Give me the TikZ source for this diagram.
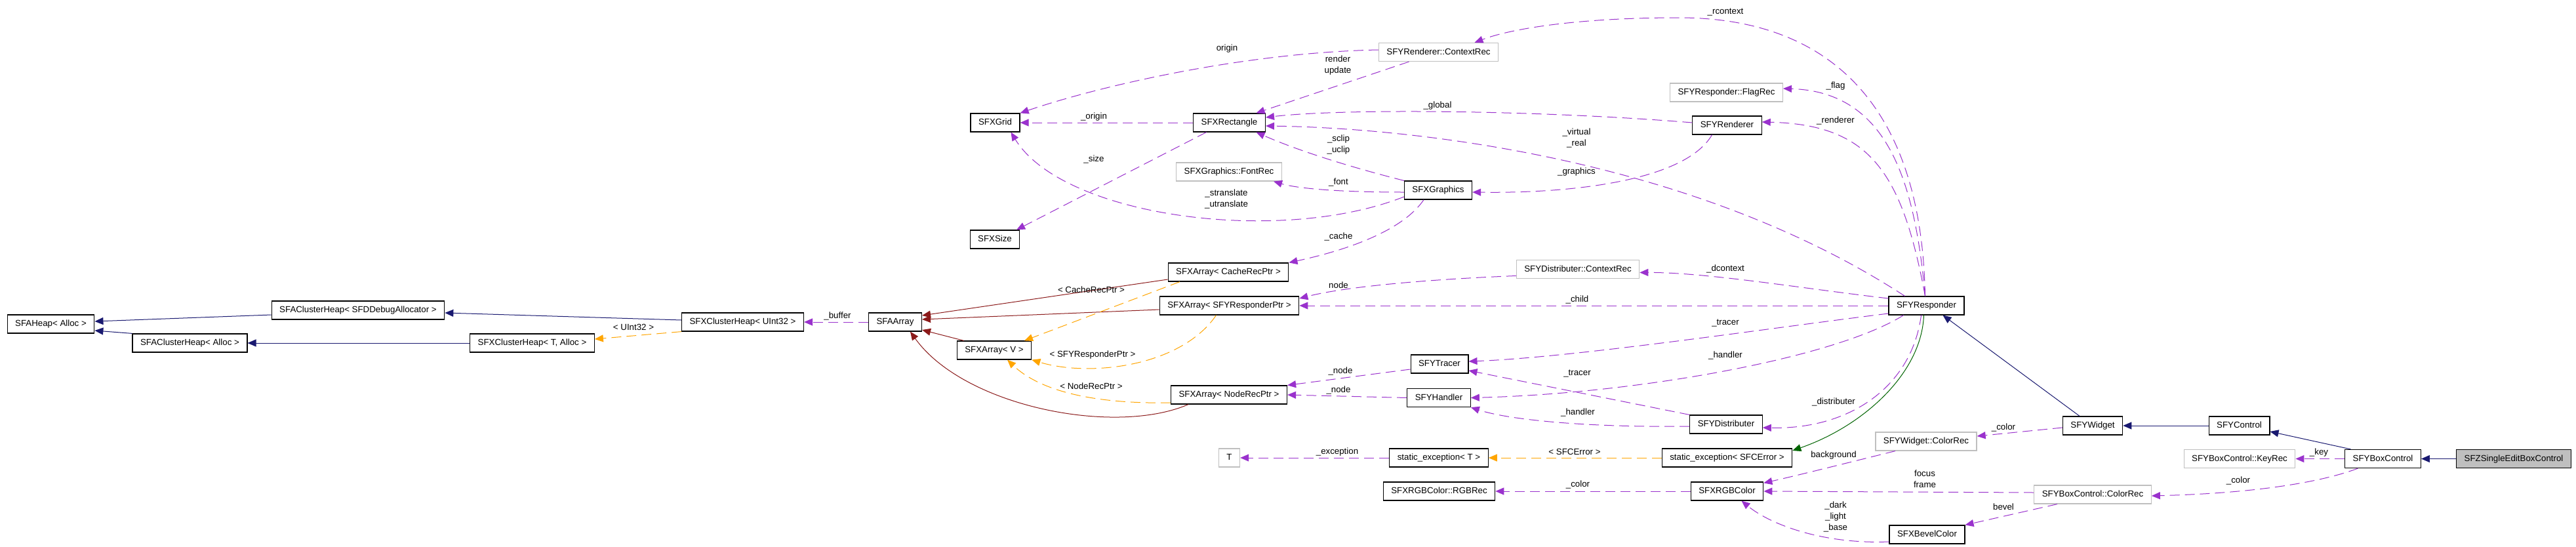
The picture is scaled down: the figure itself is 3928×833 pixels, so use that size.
\documentclass[tikz,border=0pt]{standalone}
\usepackage{fontspec}
\setmainfont{Liberation Sans}
\usepackage{tikz}
\usetikzlibrary{arrows.meta}

\definecolor{inhblue}{HTML}{191970}
\definecolor{privred}{HTML}{8B1A1A}
\definecolor{protgreen}{HTML}{006400}
\definecolor{usepurple}{HTML}{9A32CD}
\definecolor{tmplorange}{HTML}{FFA500}
\definecolor{undocgray}{HTML}{BFBFBF}

\begin{document}
\begin{tikzpicture}[x=1pt, y=-1pt,
  cls/.style={draw=black, line width=1.2pt, minimum height=28pt, inner xsep=12pt, inner ysep=0pt,
    text height=9.8pt, text depth=2.8pt, font=\fontsize{13.3}{16}\selectfont},
  ext/.style={cls, draw=undocgray},
  self/.style={cls, fill=undocgray},
  lbl/.style={inner sep=0pt, align=center, font=\fontsize{13.3}{17}\selectfont},
  tip/.style={-{Triangle[length=13pt,width=11pt]}},
  pub/.style={tip, draw=inhblue, line width=1pt},
  priv/.style={tip, draw=privred, line width=1pt},
  prot/.style={tip, draw=protgreen, line width=1pt},
  use/.style={tip, draw=usepurple, line width=1pt, dash pattern=on 15pt off 8pt},
  tmpl/.style={tip, draw=tmplorange, line width=1pt, dash pattern=on 15pt off 8pt}]

\path[use as bounding box, fill=white] (0,0) rectangle (3928,833);

% Classes
\node[cls] (heap) at (77.5,494) {SFAHeap< Alloc >};
\node[cls] (cheapdbg) at (546,473) {SFAClusterHeap< SFDDebugAllocator >};
\node[cls] (cheapalloc) at (289.5,523) {SFAClusterHeap< Alloc >};
\node[cls] (xcheapu) at (1132.5,491) {SFXClusterHeap< UInt32 >};
\node[cls] (xcheapt) at (811.5,523) {SFXClusterHeap< T, Alloc >};
\node[cls] (aarray) at (1365,491) {SFAArray};
\node[cls] (grid) at (1517.5,187) {SFXGrid};
\node[cls] (rect) at (1874.5,187) {SFXRectangle};
\node[cls] (size) at (1517,365) {SFXSize};
\node[ext] (fontrec) at (1874,262) {SFXGraphics::FontRec};
\node[ext] (rctx) at (2193.5,79.5) {SFYRenderer::ContextRec};
\node[cls] (graphics) at (2193,290) {SFXGraphics};
\node[ext] (flagrec) at (2632.5,141) {SFYResponder::FlagRec};
\node[cls] (renderer) at (2633.5,191) {SFYRenderer};
\node[cls] (arrcache) at (1873,415) {SFXArray< CacheRecPtr >};
\node[cls] (arrresp) at (1874.5,466) {SFXArray< SFYResponderPtr >};
\node[cls] (arrv) at (1516,534) {SFXArray< V >};
\node[cls] (arrnode) at (1874,602) {SFXArray< NodeRecPtr >};
\node[ext] (dctx) at (2406,410.5) {SFYDistributer::ContextRec};
\node[cls] (resp) at (2937.5,466) {SFYResponder};
\node[cls] (tracer) at (2195,555) {SFYTracer};
\node[cls] (handler) at (2194,606.5) {SFYHandler};
\node[cls] (distrib) at (2632,647) {SFYDistributer};
\node[ext] (tnode) at (1874.5,698) {T};
\node[cls] (excT) at (2194,698) {static\_exception< T >};
\node[cls] (excErr) at (2633.5,698) {static\_exception< SFCError >};
\node[cls] (rgbrec) at (2194.5,749) {SFXRGBColor::RGBRec};
\node[cls] (rgb) at (2633.5,749) {SFXRGBColor};
\node[ext] (wcolor) at (2937,673) {SFYWidget::ColorRec};
\node[cls] (widget) at (3191,649) {SFYWidget};
\node[cls] (control) at (3414.5,649) {SFYControl};
\node[ext] (keyrec) at (3415,699.5) {SFYBoxControl::KeyRec};
\node[cls] (boxctl) at (3633.5,699.5) {SFYBoxControl};
\node[self] (single) at (3833,699.5) {SFZSingleEditBoxControl};
\node[ext] (bcolor) at (3191,754) {SFYBoxControl::ColorRec};
\node[cls] (bevel) at (2938.5,815) {SFXBevelColor};

% Public inheritance
\draw[pub] ([yshift=-7pt]cheapdbg.west) -- ([yshift=4pt]heap.east);
\draw[pub] (cheapalloc.north west) -- ([yshift=-10pt]heap.east);
\draw[pub] ([yshift=3pt]xcheapu.west) -- ([yshift=-4pt]cheapdbg.east);
\draw[pub] (xcheapt.west) -- (cheapalloc.east);
\draw[pub] ([xshift=-20pt]widget.north) -- ([xshift=25pt]resp.south);
\draw[pub] (control.west) -- (widget.east);
\draw[pub] ([xshift=-49pt]boxctl.north) -- ([yshift=-9pt]control.east);
\draw[pub] (single.west) -- (boxctl.east);

% Private inheritance
\draw[priv] ([yshift=-11pt]arrcache.west) -- ([yshift=10pt]aarray.east);
\draw[priv] ([yshift=-6pt]arrresp.west) -- ([yshift=4pt]aarray.east);
\draw[priv] ([xshift=11pt]arrv.north west) -- ([yshift=-12pt]aarray.east);
\draw[priv] ([xshift=-62pt]arrnode.south) .. controls (1700,665) and (1470,620) .. ([xshift=23pt]aarray.south);

% Protected inheritance
\draw[prot] ([xshift=-4pt]resp.south) .. controls (2930,570) and (2840,650) .. ([yshift=11pt]excErr.east);

% Template instances
\draw[tmpl] (xcheapu.south west) -- ([yshift=6pt]xcheapt.east);
\draw[tmpl] ([xshift=-74pt]arrcache.south) -- ([xshift=46pt]arrv.north);
\draw[tmpl] ([xshift=-20pt]arrresp.south) .. controls (1800,560) and (1660,575) .. (arrv.south east);
\draw[tmpl] ([yshift=-12pt]arrnode.west) .. controls (1680,616) and (1590,600) .. ([xshift=20pt]arrv.south);
\draw[tmpl] (excErr.west) -- (excT.east);

% Usage
\coordinate (rtop) at (2560,27);
\draw[use] (aarray.west) -- (xcheapu.east);
\draw[use] (rect.west) -- (grid.east);
\draw[use] ([xshift=-35pt]rect.south) -- ([xshift=33pt]size.north);
\draw[use] ([yshift=3.5pt]rctx.west) .. controls (1900,80) and (1680,130) .. (grid.north east);
\draw[use] ([xshift=-45pt]rctx.south) -- ([xshift=41pt]rect.north);
\draw[use] (graphics.north west) .. controls (2060,255) and (1980,230) .. ([xshift=41pt]rect.south);
\draw[use] ([yshift=4pt]renderer.west) .. controls (2350,168) and (2050,165) .. ([yshift=8pt]rect.east);
\draw[use] ([xshift=-33pt]resp.north) .. controls (2580,240) and (2150,195) .. ([yshift=-5pt]rect.east);
\draw[use] ([yshift=-10pt]graphics.west) .. controls (1950,375) and (1620,330) .. ([xshift=24pt]grid.south);
\draw[use] ([yshift=-3pt]graphics.west) .. controls (2020,293) and (1970,285) .. ([xshift=68pt]fontrec.south);
\draw[use] ([xshift=-23pt]renderer.south) .. controls (2570,275) and (2400,295) .. ([yshift=-3pt]graphics.east);
\draw[use] ([xshift=-22pt]graphics.south) .. controls (2140,350) and (2060,380) .. (arrcache.north east);
\draw[use] ([xshift=-2pt]resp.north) .. controls (2930,150) and (2780,27) .. (rtop)
  .. controls (2400,27) and (2300,45) .. ([xshift=55pt]rctx.north);
\draw[use] ([xshift=-2pt]resp.north) .. controls (2920,280) and (2880,140) .. ([yshift=6pt]flagrec.east);
\draw[use] ([xshift=-2pt]resp.north) .. controls (2900,260) and (2850,190) .. ([yshift=5pt]renderer.east);
\draw[use] ([yshift=11pt]resp.west) .. controls (2750,440) and (2600,415) .. ([yshift=-5pt]dctx.east);
\draw[use] ([yshift=-10pt]dctx.west) .. controls (2200,425) and (2060,435) .. ([yshift=11pt]arrresp.east);
\draw[use] (resp.west) -- (arrresp.east);
\draw[use] ([yshift=-12pt]resp.west) .. controls (2700,500) and (2400,545) .. ([yshift=4pt]tracer.east);
\draw[use] ([xshift=-35pt]resp.south) .. controls (2800,545) and (2500,600) .. (handler.east);
\draw[use] ([yshift=-8pt]tracer.west) -- (arrnode.north east);
\draw[use] (handler.west) -- (arrnode.east);
\draw[use] (distrib.north west) -- ([yshift=-10pt]tracer.east);
\draw[use] ([yshift=-3pt]distrib.west) .. controls (2420,652) and (2300,640) .. (handler.south east);
\draw[use] ([xshift=-8pt]resp.south) .. controls (2915,590) and (2820,655) .. ([yshift=-5pt]distrib.east);
\draw[use] (excT.west) -- (tnode.east);
\draw[use] (rgb.west) -- (rgbrec.east);
\draw[use] ([xshift=-47pt]wcolor.south) .. controls (2820,705) and (2740,725) .. ([yshift=-2pt]rgb.north east);
\draw[use] ([yshift=3pt]bcolor.west) -- (rgb.east);
\draw[use] ([xshift=-54pt]bcolor.south) -- (bevel.north east);
\draw[use] ([yshift=-11pt]bevel.west) .. controls (2780,830) and (2700,800) .. ([xshift=22pt]rgb.south);
\draw[use] ([yshift=-3pt]widget.west) -- ([yshift=8pt]wcolor.east);
\draw[use] (boxctl.west) -- (keyrec.east);
\draw[use] ([xshift=-38pt]boxctl.south) .. controls (3540,735) and (3440,752) .. ([yshift=-2pt]bcolor.east);

% Edge labels
\node[lbl] (l_buffer) at (1277,482) {\_buffer};
\node[lbl] (l_uint) at (966,499) {< UInt32 >};
\node[lbl] (l_cachet) at (1664,442) {< CacheRecPtr >};
\node[lbl] (l_respt) at (1666,541) {< SFYResponderPtr >};
\node[lbl] (l_nodet) at (1664,589) {< NodeRecPtr >};
\node[lbl] (l_sfcerr) at (2401,689) {< SFCError >};
\node[lbl] (l_origin) at (1871,74) {origin};
\node[lbl] (l_render) at (2040,100) {render\\update};
\node[lbl] (l_origin2) at (1668,178) {\_origin};
\node[lbl] (l_size) at (1668,243) {\_size};
\node[lbl] (l_global) at (2192,161) {\_global};
\node[lbl] (l_virtual) at (2404,210) {\_virtual\\\_real};
\node[lbl] (l_clip) at (2041,221) {\_sclip\\\_uclip};
\node[lbl] (l_font) at (2041,278) {\_font};
\node[lbl] (l_transl) at (1870,303) {\_stranslate\\\_utranslate};
\node[lbl] (l_graphics) at (2404,262) {\_graphics};
\node[lbl] (l_cache) at (2041,361) {\_cache};
\node[lbl] (l_rcontext) at (2631,19) {\_rcontext};
\node[lbl] (l_flag) at (2799,131) {\_flag};
\node[lbl] (l_renderer) at (2799,184) {\_renderer};
\node[lbl] (l_dcontext) at (2631,410) {\_dcontext};
\node[lbl] (l_node) at (2041,435) {node};
\node[lbl] (l_child) at (2405,457) {\_child};
\node[lbl] (l_tracer) at (2631,493) {\_tracer};
\node[lbl] (l_handler) at (2631,542) {\_handler};
\node[lbl] (l_node2) at (2044,566) {\_node};
\node[lbl] (l_node3) at (2041,595) {\_node};
\node[lbl] (l_tracer2) at (2405,570) {\_tracer};
\node[lbl] (l_handler2) at (2406,629) {\_handler};
\node[lbl] (l_distrib) at (2796,613) {\_distributer};
\node[lbl] (l_exception) at (2039,689) {\_exception};
\node[lbl] (l_color) at (2406,739) {\_color};
\node[lbl] (l_background) at (2796,694) {background};
\node[lbl] (l_focus) at (2935,730) {focus\\frame};
\node[lbl] (l_bevel) at (3055,773) {bevel};
\node[lbl] (l_dark) at (2799,788) {\_dark\\\_light\\\_base};
\node[lbl] (l_wcolor) at (3055,652) {\_color};
\node[lbl] (l_key) at (3536,690) {\_key};
\node[lbl] (l_bcolor) at (3413,733) {\_color};

\end{tikzpicture}
\end{document}
